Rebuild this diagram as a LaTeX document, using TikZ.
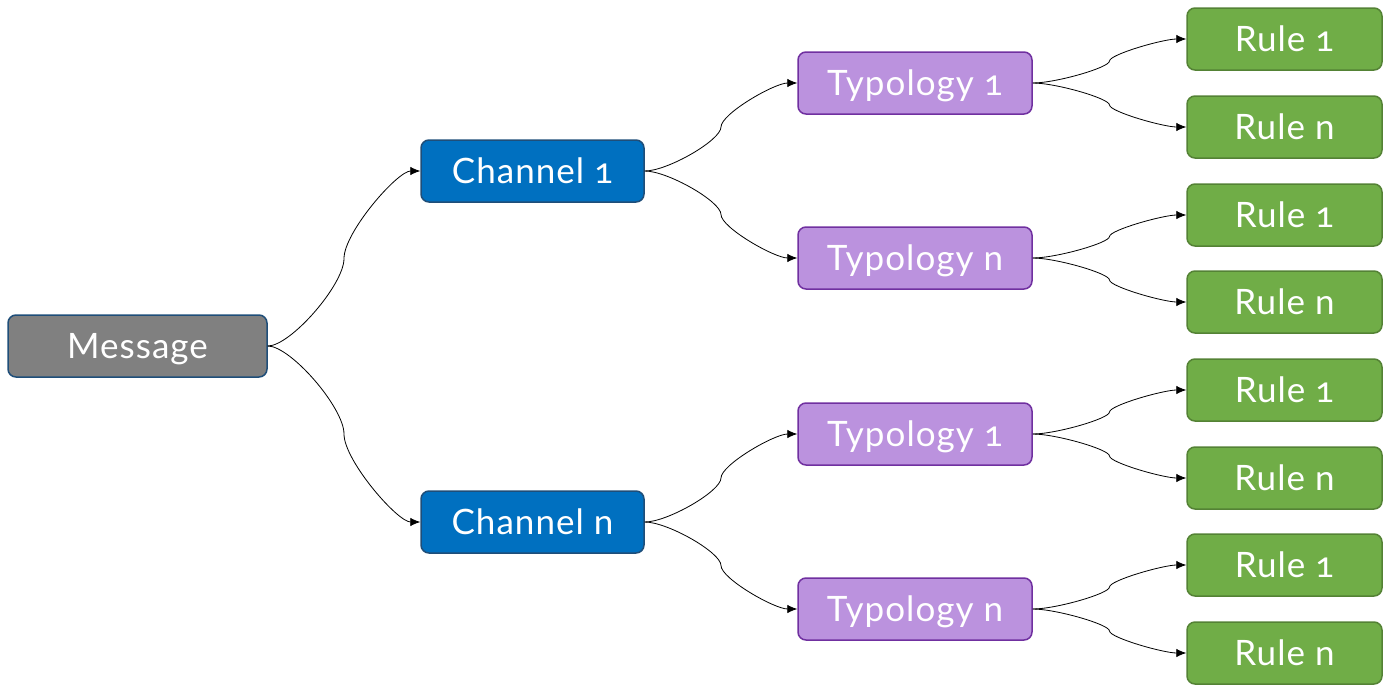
\documentclass[tikz,border=0pt]{standalone}
\usepackage{fontspec}
\setmainfont[Numbers=OldStyle,LetterSpace=3]{Lato}
\usetikzlibrary{arrows.meta,calc}
\definecolor{msgfill}{HTML}{808080}
\definecolor{darkblueborder}{HTML}{1F4E79}
\definecolor{chanfill}{HTML}{0070C0}
\definecolor{typfill}{HTML}{BB92DE}
\definecolor{typborder}{HTML}{7030A0}
\definecolor{rulefill}{HTML}{70AD47}
\definecolor{ruleborder}{HTML}{548235}
\tikzset{
  box/.style={rounded corners=8pt, line width=1.5pt, minimum height=62pt, inner sep=0pt,
    text=white, font=\fontsize{35}{40}\selectfont, text height=25pt, text depth=0pt, anchor=center},
  msgbox/.style={box, fill=msgfill, draw=darkblueborder, minimum width=259pt},
  chanbox/.style={box, fill=chanfill, draw=darkblueborder, minimum width=223pt},
  typbox/.style={box, fill=typfill, draw=typborder, minimum width=234pt},
  rulebox/.style={box, fill=rulefill, draw=ruleborder, minimum width=195pt},
  conn/.style={line width=0.8pt, -{Latex[length=10pt,width=8.5pt]}}
}
\newcommand{\sconn}[2]{%
  \coordinate (m) at ($(#1.east)!0.5!(#2.west)$);
  \coordinate (ca) at (m |- #1.east);
  \coordinate (cb) at (m |- #2.west);
  \draw[conn] (#1.east) .. controls ($(#1.east)!0.3!(ca)$) and ($(m)!0.3!(ca)$) .. (m)
    .. controls ($(m)!0.3!(cb)$) and ($(#2.west)!0.3!(cb)$) .. (#2.west);
}
\begin{document}
\begin{tikzpicture}[x=1pt,y=-1pt]
\useasboundingbox (0,0) rectangle (1390,691);
\node[msgbox] (msg) at (137.5,346) {Message};
\node[chanbox] (c1) at (532.5,171) {Channel 1};
\node[chanbox] (cn) at (532.5,522) {Channel n};
\node[typbox] (t11) at (915,83) {Typology 1};
\node[typbox] (t1n) at (915,258) {Typology n};
\node[typbox] (tn1) at (915,434) {Typology 1};
\node[typbox] (tnn) at (915,609) {Typology n};
\node[rulebox] (r1) at (1284.5,39) {Rule 1};
\node[rulebox] (r2) at (1284.5,127) {Rule n};
\node[rulebox] (r3) at (1284.5,215) {Rule 1};
\node[rulebox] (r4) at (1284.5,302) {Rule n};
\node[rulebox] (r5) at (1284.5,390) {Rule 1};
\node[rulebox] (r6) at (1284.5,478) {Rule n};
\node[rulebox] (r7) at (1284.5,565) {Rule 1};
\node[rulebox] (r8) at (1284.5,653) {Rule n};
\sconn{msg}{c1}
\sconn{msg}{cn}
\sconn{c1}{t11}
\sconn{c1}{t1n}
\sconn{cn}{tn1}
\sconn{cn}{tnn}
\sconn{t11}{r1}
\sconn{t11}{r2}
\sconn{t1n}{r3}
\sconn{t1n}{r4}
\sconn{tn1}{r5}
\sconn{tn1}{r6}
\sconn{tnn}{r7}
\sconn{tnn}{r8}
\end{tikzpicture}
\end{document}
